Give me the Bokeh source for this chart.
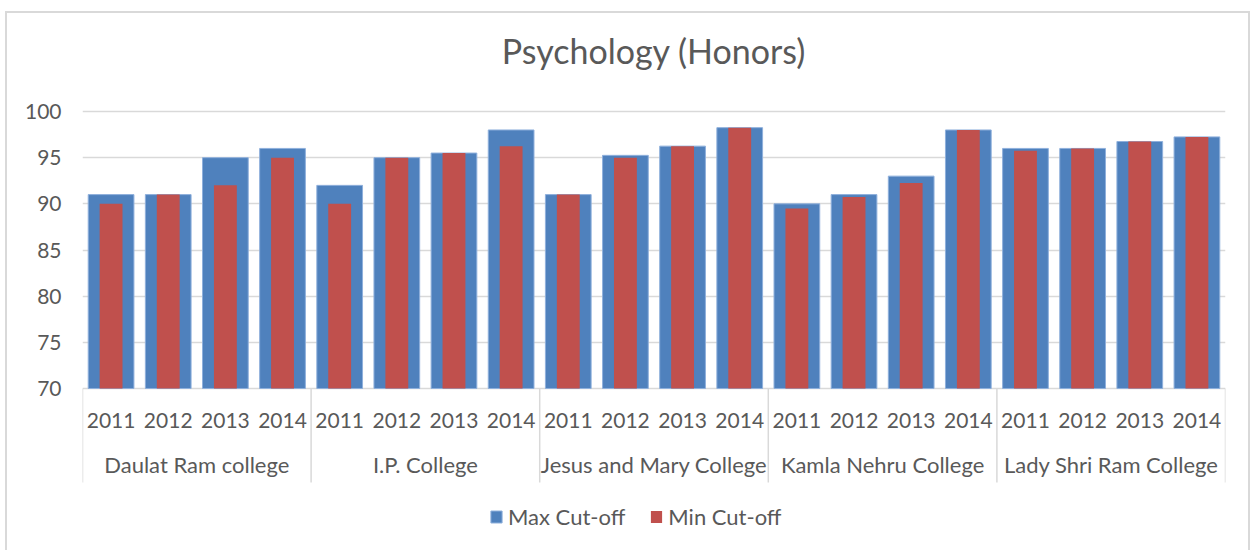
from bokeh.plotting import figure
from bokeh.models import FactorRange, Range1d, FixedTicker, ColumnDataSource, Legend, LegendItem, Label
from bokeh.core.properties import value
from bokeh.embed import file_html
from bokeh.resources import INLINE

colleges = ["Daulat Ram college", "I.P. College", "Jesus and Mary College",
            "Kamla Nehru College", "Lady Shri Ram College"]
years = ["2011", "2012", "2013", "2014"]
max_cutoff = [91, 91, 95, 96,
              92, 95, 95.5, 98,
              91, 95.25, 96.25, 98.25,
              90, 91, 93, 98,
              96, 96, 96.75, 97.25]
min_cutoff = [90, 91, 92, 95,
              90, 95, 95.5, 96.25,
              91, 95, 96.25, 98.25,
              89.5, 90.75, 92.25, 98,
              95.75, 96, 96.75, 97.25]
y_ticks = [70, 75, 80, 85, 90, 95, 100]
title_text = "Psychology (Honors)"

FONT = "Lato"
TEXT = "#595959"
GRID = "#d9d9d9"
BLUE = "#4f81bd"
RED = "#c0504d"

factors = [(c, y) for c in colleges for y in years]
BASE = y_ticks[0]
TOP = y_ticks[-1]

# outer chart border drawn by CSS: canvas starts at page (7, 13)
OX, OY = 7, 13
W, H = 1245, 552 - OY
# page layout: y=100 at 111px, y=70 at 388px, separators end at 482px, title centre at 50px
px_per_unit = (388 - 111) / (TOP - BASE)
sep_bottom = BASE - (482 - 388) / px_per_unit
y_bottom = BASE - (552 - 388) / px_per_unit
y_top = TOP + (111 - OY) / px_per_unit
title_y = TOP + (111 - 50) / px_per_unit

src = ColumnDataSource(dict(x=factors, maxv=max_cutoff, minv=min_cutoff,
                            yr=[f[1] for f in factors]))

p = figure(width=W, height=H,
           x_range=FactorRange(*factors, factor_padding=0, group_padding=0,
                               subgroup_padding=0, range_padding=0),
           y_range=Range1d(start=y_bottom, end=y_top),
           x_axis_location=None,
           output_backend="svg", toolbar_location=None,
           min_border_left=82 - OX, min_border_right=OX + W - 1225,
           min_border_top=0, min_border_bottom=0)
p.styles = {"border-top": "2px solid #d9d9d9", "border-left": "2px solid #d9d9d9",
            "border-right": "2px solid #d9d9d9", "margin-left": "5px", "margin-top": "11px"}
p.outline_line_color = None
p.background_fill_color = "white"
p.border_fill_color = "white"

p.xgrid.grid_line_color = None
p.ygrid.ticker = FixedTicker(ticks=y_ticks)
p.ygrid.grid_line_color = GRID
p.ygrid.grid_line_width = 1.5

p.yaxis.ticker = FixedTicker(ticks=y_ticks)
p.yaxis.axis_line_color = None
p.yaxis.major_tick_line_color = None
p.yaxis.minor_tick_line_color = None
p.yaxis.major_label_standoff = 15
p.yaxis.major_label_text_font = FONT
p.yaxis.major_label_text_font_size = "21px"
p.yaxis.major_label_text_color = TEXT

r1 = p.vbar(x="x", top="maxv", bottom=BASE, width=0.8, source=src,
            fill_color=BLUE, line_color="#8fb0dc", line_width=1)
r2 = p.vbar(x="x", top="minv", bottom=BASE, width=0.4, source=src,
            fill_color=RED, line_color=None)

# category axis: separators (group boundaries in synthetic units), year labels, college labels
n_years = len(years)
sep_x = [g * n_years for g in range(len(colleges) + 1)]
p.segment(x0=sep_x, x1=sep_x, y0=[BASE] * len(sep_x), y1=[sep_bottom] * len(sep_x),
          line_color=GRID, line_width=1.5)

p.text(x="x", y=BASE, text="yr", source=src, y_offset=32,
       text_align="center", text_baseline="middle",
       text_font=value(FONT), text_font_size="21px", text_color=TEXT)
p.text(x=colleges, y=[BASE] * len(colleges), text=colleges, y_offset=76,
       text_align="center", text_baseline="middle",
       text_font=value(FONT), text_font_size="22px", text_color=TEXT)

p.add_layout(Label(x=len(factors) / 2, y=title_y, text=title_text,
                   text_align="center", text_baseline="middle",
                   text_font=FONT, text_font_size="34px", text_color=TEXT))

legend = Legend(items=[LegendItem(label="Max Cut-off", renderers=[r1]),
                       LegendItem(label="Min Cut-off", renderers=[r2])],
                orientation="horizontal", location=(407, 22),
                label_text_font=FONT, label_text_font_size="22px",
                label_text_color=TEXT, glyph_width=14, glyph_height=15,
                label_standoff=5, spacing=24, border_line_color=None,
                background_fill_alpha=0, padding=0, margin=0)
p.add_layout(legend)

open("out.html", "w").write(file_html(p, INLINE))
